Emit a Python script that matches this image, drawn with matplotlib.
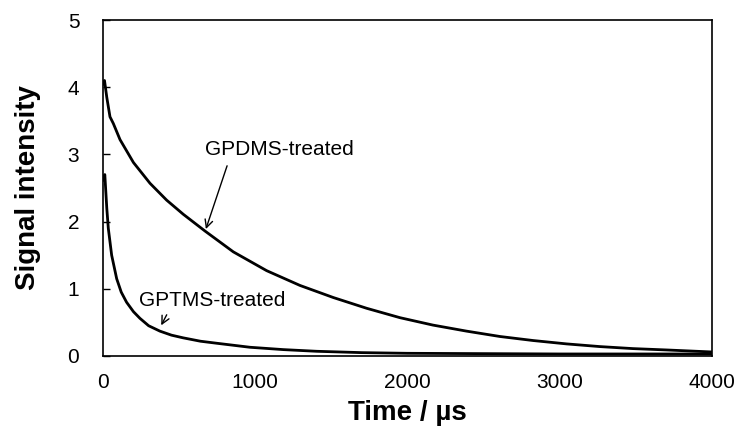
import numpy as np
import matplotlib
matplotlib.use('Agg')
import matplotlib.pyplot as plt

plt.rcParams['font.family'] = ['Liberation Sans', 'DejaVu Sans']

# GPDMS-treated decay (time in us, signal intensity)
t_gpdms = [0, 10, 25, 46, 68, 112, 200, 309, 418, 527, 670, 856, 1075, 1294, 1513,
           1732, 1951, 2167, 2388, 2608, 2826, 3045, 3264, 3481, 3700, 4000]
y_gpdms = [4.05, 4.1, 3.85, 3.56, 3.46, 3.22, 2.88, 2.57, 2.32, 2.11, 1.86, 1.55, 1.27, 1.05, 0.87,
           0.71, 0.57, 0.46, 0.37, 0.29, 0.23, 0.18, 0.14, 0.11, 0.09, 0.06]

# GPTMS-treated decay
t_gptms = [0, 12, 25, 35, 57, 90, 120, 155, 200, 243, 300, 374, 450, 527, 640, 746,
           965, 1185, 1404, 1700, 2000, 2500, 3000, 3500, 4000]
y_gptms = [2.62, 2.7, 2.2, 1.9, 1.5, 1.15, 0.95, 0.8, 0.66, 0.56, 0.45, 0.37, 0.31, 0.27, 0.22, 0.19,
           0.13, 0.095, 0.07, 0.05, 0.04, 0.035, 0.03, 0.03, 0.03]

x_ticks = [0, 1000, 2000, 3000, 4000]
y_ticks = [0, 1, 2, 3, 4, 5]

fig = plt.figure(figsize=(7.34, 4.36), dpi=100)
ax = fig.add_axes([0.1403, 0.1835, 0.8297, 0.7705])

ax.plot(t_gpdms, y_gpdms, color='black', lw=2.0, solid_joinstyle='round')
ax.plot(t_gptms, y_gptms, color='black', lw=2.0, solid_joinstyle='round')

ax.set_xlim(0, 4000)
ax.set_ylim(0, 5)
ax.set_xticks(x_ticks)
ax.set_yticks(y_ticks)
ax.tick_params(axis='both', direction='in', labelsize=15, length=5, width=1)
ax.tick_params(axis='x', length=0, pad=12)
ax.tick_params(axis='y', pad=17)
for s in ax.spines.values():
    s.set_linewidth(1.2)

ax.set_xlabel('Time / µs', fontsize=20, fontweight='bold', labelpad=6)
ax.set_ylabel('Signal intensity', fontsize=20, fontweight='bold', labelpad=19)

# labels + arrows
ax.text(1156, 3.07, 'GPDMS-treated', fontsize=15, ha='center', va='center')
ax.annotate('', xy=(670, 1.85), xytext=(821, 2.87),
            arrowprops=dict(arrowstyle='->', color='black', lw=1, mutation_scale=14))
ax.text(716, 0.83, 'GPTMS-treated', fontsize=15, ha='center', va='center')
ax.annotate('', xy=(374, 0.42), xytext=(427, 0.65),
            arrowprops=dict(arrowstyle='->', color='black', lw=1, mutation_scale=14))

fig.savefig('out.png', dpi=100)
